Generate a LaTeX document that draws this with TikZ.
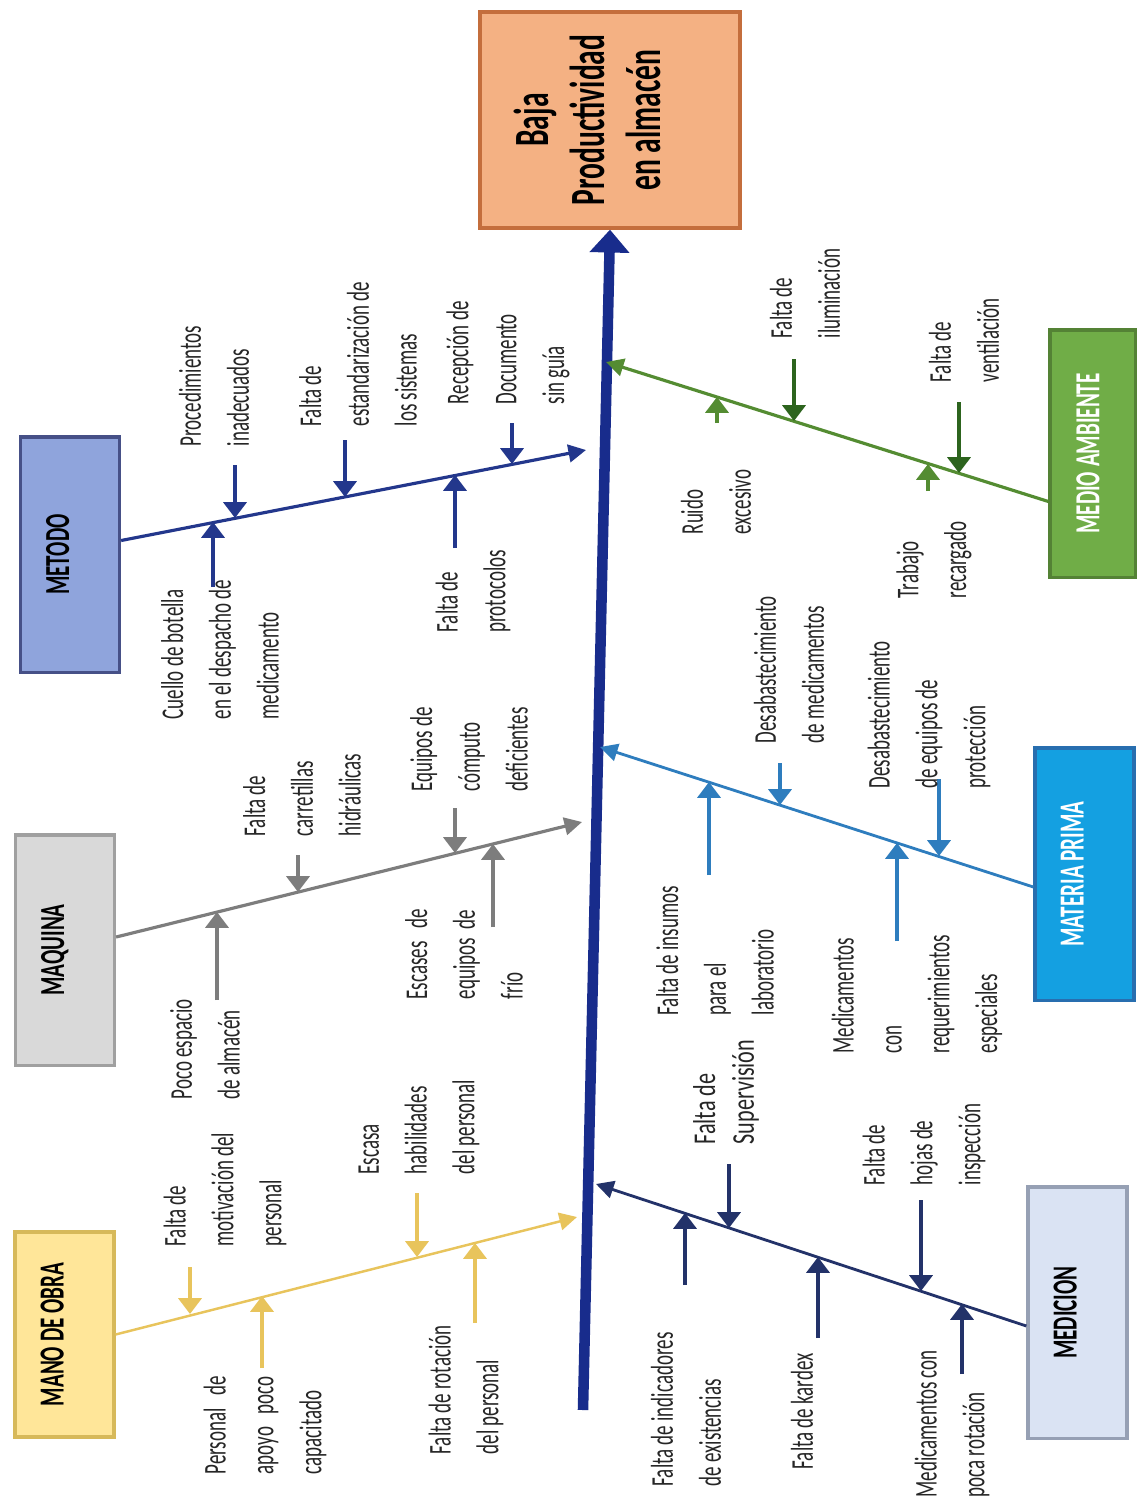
\documentclass[tikz,border=0pt]{standalone}
\usepackage{fontspec}
\setmainfont[FakeStretch=0.6]{Carlito}
\newfontfamily\anchafont[FakeStretch=0.7]{Carlito}
\usetikzlibrary{arrows.meta,calc}
\definecolor{espina}{RGB}{24,44,140}
\definecolor{naranja}{RGB}{244,177,131}
\definecolor{naranjab}{RGB}{196,110,60}
\definecolor{metodoc}{RGB}{143,164,220}
\definecolor{metodob}{RGB}{70,80,135}
\definecolor{metodol}{RGB}{35,55,140}
\definecolor{maquinac}{RGB}{217,217,217}
\definecolor{maquinab}{RGB}{160,160,160}
\definecolor{maquinal}{RGB}{125,125,125}
\definecolor{manoc}{RGB}{255,230,153}
\definecolor{manob}{RGB}{215,185,90}
\definecolor{manol}{RGB}{232,196,92}
\definecolor{medioc}{RGB}{112,173,71}
\definecolor{mediob}{RGB}{84,130,53}
\definecolor{mediol}{RGB}{84,140,50}
\definecolor{mediof}{RGB}{45,100,30}
\definecolor{materiac}{RGB}{20,160,225}
\definecolor{materiab}{RGB}{40,110,175}
\definecolor{material}{RGB}{46,125,190}
\definecolor{medicionc}{RGB}{218,227,243}
\definecolor{medicionb}{RGB}{150,160,180}
\definecolor{medicionl}{RGB}{35,50,105}
\begin{document}
\begin{tikzpicture}[x=0.01cm,y=-0.01cm,
  caja/.style={rotate=90, draw, line width=0.9pt, inner sep=0pt,
    minimum height=0.99cm, text depth=7pt, font=\fontsize{10}{12}\selectfont\bfseries},
  hueso/.style={line width=0.9pt, -{Triangle[width=5pt,length=5pt]}},
  causa/.style={line width=1.3pt, -{Triangle[width=6.5pt,length=4.5pt]}},
  texto/.style={rotate=90, anchor=west, align=left, inner sep=0pt,
    font=\fontsize{9}{13.6}\selectfont, text=black!85}]
  \path[use as bounding box, fill=white] (0,0) rectangle (1137,1502);
  % голова
  \node[draw=naranjab, fill=naranja, line width=0.9pt, rotate=90, inner sep=0pt,
    minimum width=2.16cm, minimum height=2.6cm, text depth=13pt, align=center,
    font=\fontsize{14}{16}\selectfont\bfseries] (head) at (610,120)
    {Baja\\Productividad\\en almacén};
  % хребет
  \coordinate (cola) at (583,1410);
  \draw[line width=3pt, espina, -{Triangle[width=11pt,length=6.5pt]}] (cola) -- (head.west);

  % METODO
  \node[caja, draw=metodob, fill=metodoc, minimum width=2.35cm] (metodo) at (70,554.5) {METODO};
  \coordinate (sMet) at ($(metodo.south)+(0,-14)$);
  \coordinate (tMet) at (586,450);
  \draw[hueso, metodol] (sMet) -- (tMet);
  \foreach \n/\x/\ya/\yb in {m1/235/465/518, m2/345/440/497, m3/512/423/464,
      m4/213/587/522, m5/455/548/475}{
    \coordinate (a\n) at (\x,\ya);
    \coordinate (b\n) at (\x,\yb);
    \draw[causa, metodol] (a\n) -- (b\n);
  }
  \node[texto] (m1t) at (214,447) {Procedimientos\\inadecuados};
  \node[texto] (m2t) at (358,427) {Falta de\\estandarización de\\los sistemas};
  \node[texto] (m3t) at (508,405) {Recepción de\\Documento\\sin guía};
  \node[texto] (m4t) at (220,720) {Cuello de botella\\en el despacho de\\medicamento};
  \node[texto] (m5t) at (473,633) {Falta de\\protocolos};

  % MAQUINA
  \node[caja, draw=maquinab, fill=maquinac, minimum width=2.3cm] (maquina) at (65,950) {MAQUINA};
  \coordinate (sMaq) at ($(maquina.south)+(0,-13)$);
  \coordinate (tMaq) at (582,822);
  \draw[hueso, maquinal] (sMaq) -- (tMaq);
  \foreach \n/\x/\ya/\yb in {q1/298/855/892, q2/455/808/853, q3/217/1000/912, q4/493/927/844}{
    \coordinate (a\n) at (\x,\ya);
    \coordinate (b\n) at (\x,\yb);
    \draw[causa, maquinal] (a\n) -- (b\n);
  }
  \node[texto] (q1t) at (302,837) {Falta de\\carretillas\\hidráulicas};
  \node[texto] (q2t) at (469,792) {Equipos de\\cómputo\\deficientes};
  \node[texto] (q3t) at (205,1100) {Poco espacio\\de almacén};
  \node[texto] (q4t) at (464,1000) {Escases\ \ \ de\\equipos\ \ de\\frío};

  % MANO DE OBRA
  \node[caja, draw=manob, fill=manoc, minimum width=2.05cm] (mano) at (64.5,1334.5) {MANO DE OBRA};
  \coordinate (tMan) at (577,1217);
  \draw[hueso, manol, line width=0.7pt] (mano.south) -- (tMan);
  \foreach \n/\x/\ya/\yb in {o1/190/1267/1314, o2/417/1193/1257, o3/262/1368/1296, o4/475/1323/1243}{
    \coordinate (a\n) at (\x,\ya);
    \coordinate (b\n) at (\x,\yb);
    \draw[causa, manol] (a\n) -- (b\n);
  }
  \node[texto] (o1t) at (225,1247) {Falta de\\motivación del\\personal};
  \node[texto] (o2t) at (419,1175) {Escasa\\habilidades\\del personal};
  \node[texto] (o3t) at (265,1475) {Personal\ \ \ de\\apoyo\ \ \ poco\\capacitado};
  \node[texto] (o4t) at (466,1455) {Falta de rotación\\del personal};

  % MEDIO AMBIENTE
  \node[caja, draw=mediob, fill=medioc, text=white, minimum width=2.47cm,
    minimum height=0.86cm, text depth=3pt] (medio) at (1093,453.5) {MEDIO AMBIENTE};
  \coordinate (sMed) at ($(medio.north)+(0,48)$);
  \coordinate (tMed) at (606,362);
  \draw[hueso, mediol] (sMed) -- (tMed);
  \foreach \n/\x/\ya/\yb/\c in {a1/794/359/421/mediof, a2/959/402/473/mediof,
      a3/717/423/397/mediol, a4/928/491/464/mediol}{
    \coordinate (a\n) at (\x,\ya);
    \coordinate (b\n) at (\x,\yb);
    \draw[causa, \c] (a\n) -- (b\n);
  }
  \node[texto] (a1t) at (805,339) {Falta de\\iluminación};
  \node[texto] (a2t) at (964,383) {Falta de\\ventilación};
  \node[texto] (a3t) at (716,535) {Ruido\\excesivo};
  \node[texto] (a4t) at (934,599) {Trabajo\\recargado};

  % MATERIA PRIMA
  \node[caja, draw=materiab, fill=materiac, text=white, minimum width=2.52cm] (materia) at (1084.5,874) {MATERIA PRIMA};
  \coordinate (sMat) at ($(materia.north)+(0,13)$);
  \coordinate (tMat) at (600,747);
  \draw[hueso, material, line width=0.8pt] (sMat) -- (tMat);
  \foreach \n/\x/\ya/\yb in {p1/780/763/805, p2/939/779/856, p3/709/875/782, p4/897/941/843}{
    \coordinate (a\n) at (\x,\ya);
    \coordinate (b\n) at (\x,\yb);
    \draw[causa, material] (a\n) -- (b\n);
  }
  \node[texto] (p1t) at (789,744) {Desabastecimiento\\de medicamentos};
  \node[texto] (p2t) at (929,789) {Desabastecimiento\\de equipos de\\protección};
  \node[texto] (p3t) at (715,1016) {Falta de insumos\\para el\\laboratorio};
  \node[texto] (p4t) at (917,1054) {Medicamentos\\con\\requerimientos\\especiales};

  % MEDICION
  \node[caja, draw=medicionb, fill=medicionc, minimum width=2.51cm] (medicion) at (1077.5,1312.5) {MEDICION};
  \coordinate (sMdc) at ($(medicion.north)+(0,13.5)$);
  \coordinate (tMdc) at (596,1184);
  \draw[hueso, medicionl, line width=0.8pt] (sMdc) -- (tMdc);
  \foreach \n/\x/\ya/\yb in {d1/729/1164/1228, d2/921/1200/1291, d3/685/1285/1213,
      d4/818/1338/1257, d5/962/1374/1304}{
    \coordinate (a\n) at (\x,\ya);
    \coordinate (b\n) at (\x,\yb);
    \draw[causa, medicionl] (a\n) -- (b\n);
  }
  \node[texto, font=\anchafont\fontsize{9}{11}\selectfont] (d1t) at (726,1145) {Falta de\\Supervisión};
  \node[texto] (d2t) at (924,1186) {Falta de\\hojas de\\inspección};
  \node[texto] (d3t) at (686,1487) {Falta de indicadores\\de existencias};
  \node[texto] (d4t) at (802,1470) {Falta de kardex};
  \node[texto] (d5t) at (952,1498) {Medicamentos con\\poca rotación};
\end{tikzpicture}
\end{document}
